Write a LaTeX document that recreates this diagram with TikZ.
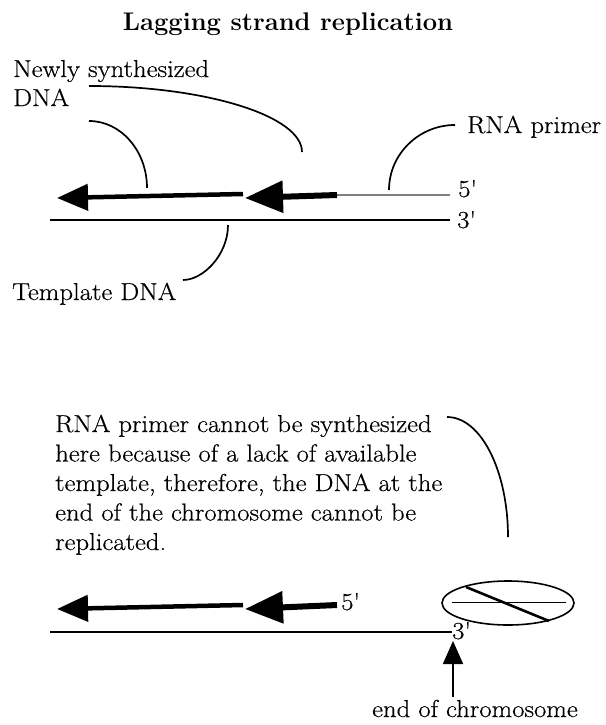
\documentclass[tikz,border=0pt]{standalone}
\usepackage{fontspec}
\setmainfont{Latin Modern Roman}[UprightFeatures={FakeStretch=1.09,FakeBold=0.5}]
\usetikzlibrary{arrows.meta}
\begin{document}
\begin{tikzpicture}[x=1pt,y=-1pt,
  lbl/.style={inner sep=0pt, anchor=base west, font=\fontsize{24.5}{29.5}\selectfont},
  callout/.style={line width=1.7pt},
  strand/.style={line width=2pt},
  primer/.style={line width=1.5pt, gray},
  okazA/.style={line width=4.5pt, -{Triangle[length=31pt,width=26pt]}},
  okazB/.style={line width=6pt, -{Triangle[length=38pt,width=31pt]}},
  ptr/.style={line width=1.7pt, -{Triangle[length=23pt,width=20pt]}},
]
\useasboundingbox (0,0) rectangle (605,725);

% title
\node[font=\fontsize{25.5}{30}\selectfont\bfseries, inner sep=0pt, anchor=base] (title) at (288,31) {Lagging strand replication};

% ---- upper panel: ongoing lagging strand synthesis ----
\coordinate (tplL) at (50,220);
\coordinate (tplR) at (450,220);
\coordinate (prR) at (450,195);
\coordinate (prL) at (337,195);
\coordinate (okB) at (245,198);
\coordinate (okAs) at (243,194);
\coordinate (okA) at (57,198);

\draw[strand] (tplL) -- (tplR);
\draw[primer] (prL) -- (prR);
\draw[okazB] (prL) -- (okB);
\draw[okazA] (okAs) -- (okA);

\node[lbl] (top5) at (458,197) {5\textquotesingle};
\node[lbl] (top3) at (457,228) {3\textquotesingle};

\node[lbl] (newly1) at (13,77) {Newly synthesized};
\node[lbl] (newly2) at (13,106) {DNA};
\node[lbl] (rnap) at (467,133) {RNA primer};
\node[lbl] (tmpl) at (12,300) {Template DNA};

% callout curves
\coordinate (cA0) at (89,121);   \coordinate (cA1) at (147,188);
\coordinate (cB0) at (89,86);    \coordinate (cB1) at (302,152);
\coordinate (cR0) at (455,125);  \coordinate (cR1) at (389,190);
\coordinate (cT0) at (228,225);  \coordinate (cT1) at (183,280);

\draw[callout] (cA0) .. controls (121,121) and (147,151) .. (cA1);
\draw[callout] (cB0) .. controls (206,86) and (302,116) .. (cB1);
\draw[callout] (cR0) .. controls (419,125) and (389,154) .. (cR1);
\draw[callout] (cT0) .. controls (228,255) and (203,280) .. (cT1);

% ---- lower panel: chromosome end ----
\node[lbl] (l1) at (55,432) {RNA primer cannot be synthesized};
\node[lbl] (l2) at (55,461.5) {here because of a lack of available};
\node[lbl] (l3) at (55,491) {template, therefore, the DNA at the};
\node[lbl] (l4) at (55,520.5) {end of the chromosome cannot be};
\node[lbl] (l5) at (55,550) {replicated.};

\coordinate (cE0) at (447,417);
\coordinate (cE1) at (508,537);
\draw[callout] (cE0) .. controls (481,417) and (508,471) .. (cE1);

\coordinate (btL) at (50,632);
\coordinate (btR) at (452,632);
\coordinate (bprL) at (337,605);
\coordinate (bokB) at (245,609);
\coordinate (bokAs) at (243,605);
\coordinate (bokA) at (57,609);

\draw[strand] (btL) -- (btR);
\draw[okazB] (bprL) -- (bokB);
\draw[okazA] (bokAs) -- (bokA);

\node[lbl] (bot5) at (341,610) {5\textquotesingle};
\node[lbl] (bot3) at (452,639) {3\textquotesingle};

% crossed-out missing primer
\draw[line width=1.6pt] (508,603) ellipse [x radius=66, y radius=22];
\draw[line width=1pt] (452,602) -- (566,602);
\draw[line width=2.6pt] (466,587) -- (549,621);

% end of chromosome pointer
\node[lbl] (chrend) at (372,717) {end of chromosome};
\coordinate (ptrS) at (453,697);
\coordinate (ptrE) at (453,641);
\draw[ptr] (ptrS) -- (ptrE);
\end{tikzpicture}
\end{document}
